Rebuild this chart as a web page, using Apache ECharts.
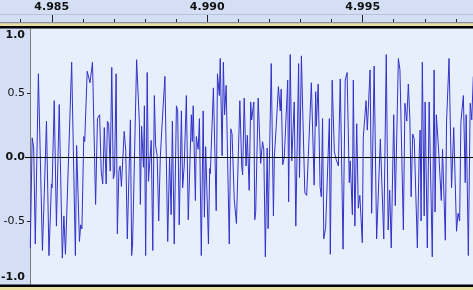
<!DOCTYPE html>
<html><head><meta charset="utf-8">
<script src="https://cdn.jsdelivr.net/npm/echarts@6/dist/echarts.min.js"></script>
<style>html,body{margin:0;padding:0;background:#d4dff6;}#c{width:473px;height:290px;}</style>
</head><body><div id="c"></div>
<script>
// time in milliseconds
const times = [4984.31,4984.37,4984.42,4984.47,4984.57,4984.70,4984.76,4984.79,4984.83,4984.91,4984.99,4985.01,4985.08,4985.15,4985.24,4985.34,4985.39,4985.44,4985.64,4985.76,4985.80,4985.89,4985.93,4985.97,4986.03,4986.06,4986.14,4986.23,4986.31,4986.41,4986.47,4986.54,4986.59,4986.64,4986.69,4986.75,4986.79,4986.83,4986.88,4986.93,4986.98,4987.02,4987.07,4987.11,4987.16,4987.20,4987.24,4987.33,4987.38,4987.43,4987.53,4987.57,4987.60,4987.73,4987.82,4987.85,4987.89,4987.95,4987.98,4988.02,4988.07,4988.11,4988.16,4988.20,4988.25,4988.30,4988.34,4988.39,4988.44,4988.49,4988.55,4988.64,4988.73,4988.79,4988.84,4988.88,4988.94,4989.01,4989.05,4989.10,4989.17,4989.21,4989.26,4989.33,4989.39,4989.49,4989.52,4989.55,4989.62,4989.65,4989.71,4989.75,4989.81,4989.87,4989.91,4989.95,4990.04,4990.08,4990.10,4990.20,4990.29,4990.33,4990.39,4990.42,4990.48,4990.52,4990.56,4990.61,4990.71,4990.76,4990.80,4990.87,4990.94,4991.05,4991.11,4991.14,4991.19,4991.25,4991.29,4991.35,4991.40,4991.43,4991.50,4991.53,4991.56,4991.64,4991.72,4991.78,4991.82,4991.87,4991.93,4991.96,4992.06,4992.13,4992.16,4992.22,4992.29,4992.35,4992.38,4992.43,4992.48,4992.59,4992.62,4992.67,4992.72,4992.80,4992.85,4992.94,4992.97,4993.03,4993.07,4993.14,4993.20,4993.25,4993.35,4993.44,4993.49,4993.51,4993.57,4993.63,4993.67,4993.71,4993.75,4993.81,4993.93,4993.96,4994.02,4994.09,4994.15,4994.22,4994.28,4994.37,4994.44,4994.50,4994.57,4994.60,4994.67,4994.70,4994.75,4994.81,4994.86,4994.91,4994.99,4995.02,4995.11,4995.15,4995.24,4995.29,4995.37,4995.45,4995.57,4995.61,4995.68,4995.76,4995.82,4995.87,4995.92,4996.00,4996.05,4996.15,4996.20,4996.31,4996.36,4996.42,4996.47,4996.52,4996.56,4996.61,4996.66,4996.76,4996.82,4996.85,4996.88,4996.92,4996.98,4997.01,4997.08,4997.14,4997.24,4997.30,4997.33,4997.37,4997.44,4997.53,4997.57,4997.66,4997.70,4997.73,4997.78,4997.86,4997.93,4997.97,4998.02,4998.07,4998.12,4998.16,4998.24,4998.30,4998.33,4998.40,4998.46,4998.51,4998.56];
const amps = [-0.71,0.15,0.07,-0.68,0.65,-0.73,-0.28,-0.28,0.28,-0.77,-0.21,-0.24,0.44,-0.54,0.41,-0.79,-0.46,-0.76,0.74,-0.77,0.09,-0.66,-0.53,-0.56,0.16,0.12,0.67,0.58,0.74,-0.37,0.30,0.33,-0.11,-0.21,0.23,-0.21,0.28,0.26,-0.11,0.70,-0.17,-0.13,0.65,-0.60,-0.11,-0.07,-0.23,0.20,0.05,-0.64,0.29,-0.77,-0.68,0.76,0.26,-0.37,0.24,-0.08,0.40,-0.77,0.66,-0.19,-0.20,0.13,-0.73,0.48,0.09,0.01,-0.50,-0.01,0.26,0.63,-0.66,0.00,-0.45,0.28,-0.68,0.40,0.36,-0.53,0.36,-0.24,-0.07,0.48,-0.49,0.33,0.12,0.40,-0.34,0.16,0.06,0.30,-0.77,0.36,-0.47,0.08,-0.68,-0.09,-0.13,0.54,-0.42,0.65,0.48,0.77,0.01,0.74,0.33,0.56,-0.68,0.22,0.18,-0.33,-0.52,0.44,-0.07,-0.14,0.46,-0.07,0.17,-0.26,0.43,0.29,0.43,-0.49,-0.43,0.46,-0.05,0.12,0.06,-0.78,0.07,-0.56,0.73,-0.46,0.00,0.24,0.55,0.36,0.53,-0.06,0.00,0.60,-0.35,0.80,-0.03,0.43,-0.54,0.73,-0.16,0.79,0.39,-0.28,-0.30,-0.30,0.58,-0.22,0.51,0.24,0.57,-0.23,-0.31,0.30,-0.64,-0.55,0.30,-0.76,0.60,0.04,-0.02,-0.07,0.61,-0.72,0.60,0.66,-0.20,-0.03,-0.45,0.60,-0.54,0.26,-0.40,-0.30,-0.67,0.15,0.44,0.21,0.68,-0.44,0.71,-0.64,0.14,0.14,-0.64,0.80,-0.57,-0.26,-0.71,0.33,-0.38,0.77,0.68,-0.57,0.42,0.28,0.57,0.29,-0.31,0.18,0.14,-0.71,0.03,0.21,-0.50,0.74,-0.46,0.43,-0.71,0.43,-0.78,0.68,-0.43,0.33,0.07,-0.34,0.06,-0.65,0.28,0.27,0.77,-0.24,0.23,0.24,-0.58,-0.44,-0.50,0.27,0.48,-0.20,0.33,-0.77,0.42,0.29,0.63];
// ruler (ms): minor tick every 1 ms, labelled major tick every 5 ms
const timeLabels = [4985, 4990, 4995];
const minorTickFirst = 4984, minorTickLast = 4998, minorTickStep = 1;
const majorTickFirst = 4985, majorTickLast = 4995, majorTickStep = 5;
const ampMin = -1, ampMax = 1, ampStep = 0.5;
const timeMin = 4984.30, timeMax = 4998.55;

const W = 473, plotLeft = 30, plotTop = 29, plotBottom = 5;
const pxPerMs = (W - plotLeft) / (timeMax - timeMin);
const xOf = t => plotLeft + (t - timeMin) * pxPerMs;
const rulerBg = '#d4dff6', plotBg = '#e8effc', yellow = '#e6df9e', tickColor = '#222';
const chart = echarts.init(document.getElementById('c'), null, {renderer:'canvas'});
const font = 'DejaVu Sans';
const tickAxisBase = {axisLine:{show:false}, axisTick:{show:false}, axisLabel:{show:false}};
chart.setOption({
  animation: false,
  backgroundColor: rulerBg,
  grid: [
    {left: plotLeft, right: 0, top: plotTop, bottom: plotBottom, show: true, backgroundColor: plotBg, borderWidth: 0, outerBoundsMode:'none'},
    // minor ruler ticks
    {left: xOf(minorTickFirst), width: (minorTickLast - minorTickFirst) * pxPerMs, top: 19, height: 3, show: false, outerBoundsMode:'none'},
    // major ruler ticks
    {left: xOf(majorTickFirst), width: (majorTickLast - majorTickFirst) * pxPerMs, top: 15, height: 7, show: false, outerBoundsMode:'none'},
    // amplitude ticks
    {left: plotLeft - 3, width: 3, top: plotTop, bottom: plotBottom, show: false, outerBoundsMode:'none'},
    // zero tick
    {left: plotLeft - 5, width: 5, top: plotTop, bottom: plotBottom, show: false, outerBoundsMode:'none'}
  ],
  graphic: [
    {type:'line', z:100, shape:{x1:0,y1:14.5,x2:W,y2:14.5}, style:{stroke:'#b9c2d6',lineWidth:1}, silent:true},
    {type:'rect', z:100, shape:{x:0,y:22,width:W,height:1.5}, style:{fill:'#8e8e98'}, silent:true},
    {type:'rect', z:100, shape:{x:0,y:23.5,width:W,height:2.5}, style:{fill:yellow}, silent:true},
    {type:'rect', z:100, shape:{x:0,y:26,width:W,height:2.5}, style:{fill:'#000'}, silent:true},
    {type:'rect', z:100, shape:{x:0,y:284.5,width:W,height:2.5}, style:{fill:'#000'}, silent:true},
    {type:'rect', z:100, shape:{x:0,y:287,width:W,height:3}, style:{fill:yellow}, silent:true}
  ],
  xAxis: [
    {type:'value', gridIndex:0, min:timeMin, max:timeMax, position:'top', offset:7,
     axisLine:{show:false}, axisTick:{show:false}, splitLine:{show:false},
     axisLabel:{show:true, customValues:timeLabels, margin:9, fontFamily:font, fontSize:11, fontWeight:'bold', color:'#111',
       formatter: v => (v/1000).toFixed(3)}},
    Object.assign({type:'value', gridIndex:1, min:minorTickFirst, max:minorTickLast, interval:minorTickStep,
      splitLine:{show:true, lineStyle:{color:tickColor, width:1}}}, tickAxisBase),
    Object.assign({type:'value', gridIndex:2, min:majorTickFirst, max:majorTickLast, interval:majorTickStep,
      splitLine:{show:true, lineStyle:{color:tickColor, width:1}}}, tickAxisBase),
    Object.assign({type:'value', gridIndex:3, min:0, max:1, splitLine:{show:false}}, tickAxisBase),
    Object.assign({type:'value', gridIndex:4, min:0, max:1, splitLine:{show:false}}, tickAxisBase)
  ],
  yAxis: [
    {type:'value', gridIndex:0, min:ampMin, max:ampMax, interval:ampStep, position:'left',
     axisLine:{show:true, lineStyle:{color:'#7c7c7c', width:1}},
     splitLine:{show:false}, axisTick:{show:false},
     axisLabel:{show:true, margin:5, fontFamily:font, fontSize:11, color:'#111',
       formatter: v => {
         const s = v.toFixed(1);
         if (v === ampMax) return '{t|' + s + '}';
         if (v === ampMin) return '{b|' + s + '}';
         if (v === 0) return '{z|' + s + '}';
         return '{n|' + s + '}';
       },
       rich: {
         t:{fontFamily:font, fontSize:11, fontWeight:'bold', color:'#111', padding:[12,0,0,0]},
         b:{fontFamily:font, fontSize:11, fontWeight:'bold', color:'#111', padding:[0,0,16,0]},
         z:{fontFamily:font, fontSize:11, fontWeight:'bold', color:'#111'},
         n:{fontFamily:font, fontSize:11, color:'#111'}
       }}},
    Object.assign({type:'value', gridIndex:1, min:0, max:1, splitLine:{show:false}}, tickAxisBase),
    Object.assign({type:'value', gridIndex:2, min:0, max:1, splitLine:{show:false}}, tickAxisBase),
    Object.assign({type:'value', gridIndex:3, min:ampMin, max:ampMax, interval:ampStep,
      splitLine:{show:true, showMinLine:false, showMaxLine:false, lineStyle:{color:tickColor, width:1}}}, tickAxisBase),
    Object.assign({type:'value', gridIndex:4, min:ampMin, max:ampMax, interval:ampMax,
      splitLine:{show:true, showMinLine:false, showMaxLine:false, lineStyle:{color:'#000', width:1}}}, tickAxisBase)
  ],
  series: [{
    type:'line', xAxisIndex:0, yAxisIndex:0,
    data: times.map((t, i) => [t, amps[i]]),
    showSymbol:false, symbol:'none', clip:true, sampling:null,
    lineStyle:{color:'#3232c8', width:1},
    markLine:{silent:true, symbol:['none','none'], label:{show:false},
      lineStyle:{color:'#000', width:1, type:'solid'},
      data:[{yAxis:0}]}
  }]
});
</script></body></html>
